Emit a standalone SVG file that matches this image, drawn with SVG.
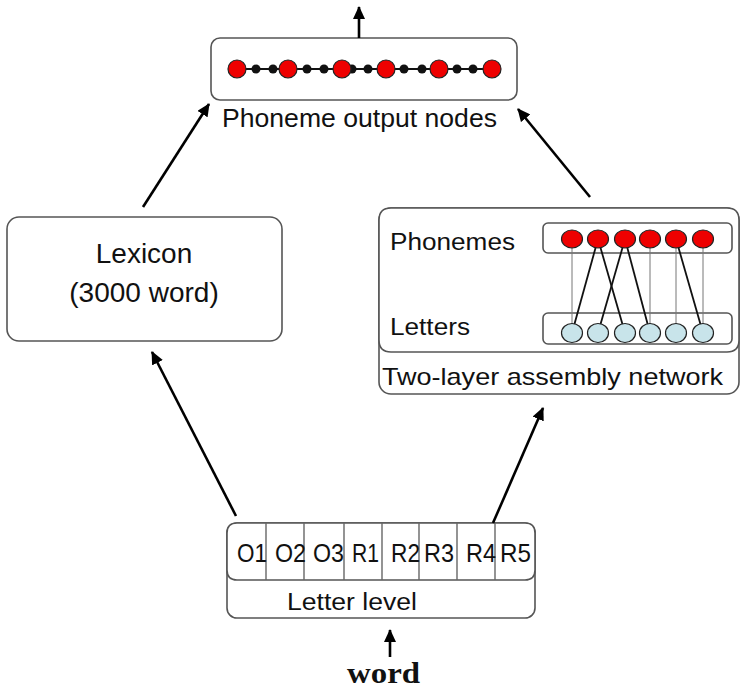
<svg xmlns="http://www.w3.org/2000/svg" width="741" height="689" viewBox="0 0 741 689">
  <defs>
    <style>
      .box { fill: #ffffff; stroke: #555555; stroke-width: 1.6; }
      .lbl { font-family: "Liberation Sans", Arial, sans-serif; fill: #111111; }
      .arrow { stroke: #000000; stroke-width: 2.6; fill: none; marker-end: url(#head); }
      .red { fill: #ee0000; stroke: #222222; stroke-width: 1.2; }
      .blue { fill: #c8e4ea; stroke: #222222; stroke-width: 1.2; }
      .dot { fill: #111111; }
      .thin { stroke: #777777; stroke-width: 1; }
      .link { stroke: #111111; stroke-width: 1.8; }
    </style>
    <marker id="head" markerUnits="userSpaceOnUse" markerWidth="14" markerHeight="12" refX="12" refY="6" orient="auto">
      <path d="M0,0 L13,6 L0,12 Z" fill="#000000"/>
    </marker>
  </defs>
  <rect width="741" height="689" fill="#ffffff"/>

  <!-- Phoneme output nodes -->
  <g id="output">
    <rect class="box" x="211" y="38" width="306" height="62" rx="9"/>
    <line x1="237" y1="69" x2="492" y2="69" stroke="#111" stroke-width="2"/>
    <g class="dot">
      <circle cx="256" cy="69" r="4.5"/><circle cx="273" cy="69" r="4.5"/>
      <circle cx="307" cy="69" r="4.5"/><circle cx="324" cy="69" r="4.5"/>
      <circle cx="352" cy="69" r="4.5"/><circle cx="368" cy="69" r="4.5"/>
      <circle cx="404" cy="69" r="4.5"/><circle cx="422" cy="69" r="4.5"/>
      <circle cx="457" cy="69" r="4.5"/><circle cx="473" cy="69" r="4.5"/>
    </g>
    <circle class="red" cx="237" cy="69" r="9"/>
    <circle class="red" cx="288" cy="69" r="9"/>
    <circle class="red" cx="342" cy="69" r="9"/>
    <circle class="red" cx="386" cy="69" r="9"/>
    <circle class="red" cx="439" cy="69" r="9"/>
    <circle class="red" cx="492" cy="69" r="9"/>
    <text class="lbl" x="222" y="127" font-size="26" textLength="275" lengthAdjust="spacingAndGlyphs">Phoneme output nodes</text>
  </g>

  <!-- Lexicon -->
  <g id="lexicon">
    <rect class="box" x="7" y="217" width="275" height="124" rx="12"/>
    <text class="lbl" x="144" y="263" font-size="28" text-anchor="middle">Lexicon</text>
    <text class="lbl" x="144" y="302" font-size="28" text-anchor="middle">(3000 word)</text>
  </g>

  <!-- Two-layer assembly network -->
  <g id="assembly">
    <rect class="box" x="379" y="208" width="360" height="186" rx="12"/>
    <path class="box" d="M379,220 Q379,208 391,208 L727,208 Q739,208 739,220 L739,340 Q739,352 727,352 L391,352 Q379,352 379,340 Z"/>
    <text class="lbl" x="390" y="250" font-size="23" textLength="125" lengthAdjust="spacingAndGlyphs">Phonemes</text>
    <text class="lbl" x="390" y="335" font-size="23" textLength="80" lengthAdjust="spacingAndGlyphs">Letters</text>
    <text class="lbl" x="382" y="385" font-size="24" textLength="341" lengthAdjust="spacingAndGlyphs">Two-layer assembly network</text>
    <rect class="box" x="543" y="223" width="189" height="30" rx="5"/>
    <rect class="box" x="543" y="313" width="189" height="31" rx="5"/>
    <g>
      <line class="thin" x1="572" y1="239" x2="572" y2="333"/>
      <line class="thin" x1="650" y1="239" x2="650" y2="333"/>
      <line class="thin" x1="676" y1="239" x2="676" y2="333"/>
      <line class="thin" x1="703" y1="239" x2="703" y2="333"/>
      <line class="link" x1="598" y1="239" x2="572" y2="333"/>
      <line class="link" x1="598" y1="239" x2="625" y2="333"/>
      <line class="link" x1="625" y1="239" x2="598" y2="333"/>
      <line class="link" x1="625" y1="239" x2="650" y2="333"/>
      <line class="link" x1="676" y1="239" x2="703" y2="333"/>
    </g>
    <ellipse class="red" cx="572" cy="239" rx="10.5" ry="9"/>
    <ellipse class="red" cx="598" cy="239" rx="10.5" ry="9"/>
    <ellipse class="red" cx="625" cy="239" rx="10.5" ry="9"/>
    <ellipse class="red" cx="650" cy="239" rx="10.5" ry="9"/>
    <ellipse class="red" cx="676" cy="239" rx="10.5" ry="9"/>
    <ellipse class="red" cx="703" cy="239" rx="10.5" ry="9"/>
    <ellipse class="blue" cx="572" cy="333" rx="10.5" ry="9.5"/>
    <ellipse class="blue" cx="598" cy="333" rx="10.5" ry="9.5"/>
    <ellipse class="blue" cx="625" cy="333" rx="10.5" ry="9.5"/>
    <ellipse class="blue" cx="650" cy="333" rx="10.5" ry="9.5"/>
    <ellipse class="blue" cx="676" cy="333" rx="10.5" ry="9.5"/>
    <ellipse class="blue" cx="703" cy="333" rx="10.5" ry="9.5"/>
  </g>

  <!-- Letter level -->
  <g id="letters">
    <rect class="box" x="227" y="523" width="308" height="95" rx="10"/>
    <path class="box" d="M227,533 Q227,523 237,523 L525,523 Q535,523 535,533 L535,570 Q535,580 525,580 L237,580 Q227,580 227,570 Z"/>
    <g stroke="#666" stroke-width="1.4">
      <line x1="266" y1="523" x2="266" y2="580"/>
      <line x1="304" y1="523" x2="304" y2="580"/>
      <line x1="344" y1="523" x2="344" y2="580"/>
      <line x1="382" y1="523" x2="382" y2="580"/>
      <line x1="419" y1="523" x2="419" y2="580"/>
      <line x1="457" y1="523" x2="457" y2="580"/>
      <line x1="495" y1="523" x2="495" y2="580"/>
    </g>
    <g class="lbl" font-size="25">
      <text x="237" y="562" textLength="30" lengthAdjust="spacingAndGlyphs">O1</text>
      <text x="275" y="562" textLength="31" lengthAdjust="spacingAndGlyphs">O2</text>
      <text x="313" y="562" textLength="31" lengthAdjust="spacingAndGlyphs">O3</text>
      <text x="352" y="562" textLength="27" lengthAdjust="spacingAndGlyphs">R1</text>
      <text x="391" y="562" textLength="29" lengthAdjust="spacingAndGlyphs">R2</text>
      <text x="424" y="562" textLength="30" lengthAdjust="spacingAndGlyphs">R3</text>
      <text x="466" y="562" textLength="30" lengthAdjust="spacingAndGlyphs">R4</text>
      <text x="500" y="562" textLength="31" lengthAdjust="spacingAndGlyphs">R5</text>
    </g>
    <text class="lbl" x="287" y="610" font-size="23" textLength="130" lengthAdjust="spacingAndGlyphs">Letter level</text>
  </g>

  <!-- Input word -->
  <g id="word">
    <text x="347" y="683" font-family="'Liberation Serif', 'Times New Roman', serif" font-weight="bold" font-size="29" fill="#111" textLength="73" lengthAdjust="spacingAndGlyphs">word</text>
  </g>

  <!-- Connectors -->
  <g id="connectors">
    <line class="arrow" x1="359" y1="38" x2="359" y2="7"/>
    <line class="arrow" x1="143" y1="207" x2="209" y2="104"/>
    <line class="arrow" x1="590" y1="197" x2="518" y2="109"/>
    <line class="arrow" x1="236" y1="516" x2="152" y2="352"/>
    <line class="arrow" x1="493" y1="523" x2="543" y2="408"/>
    <line class="arrow" x1="390" y1="657" x2="390" y2="630"/>
  </g>
</svg>
